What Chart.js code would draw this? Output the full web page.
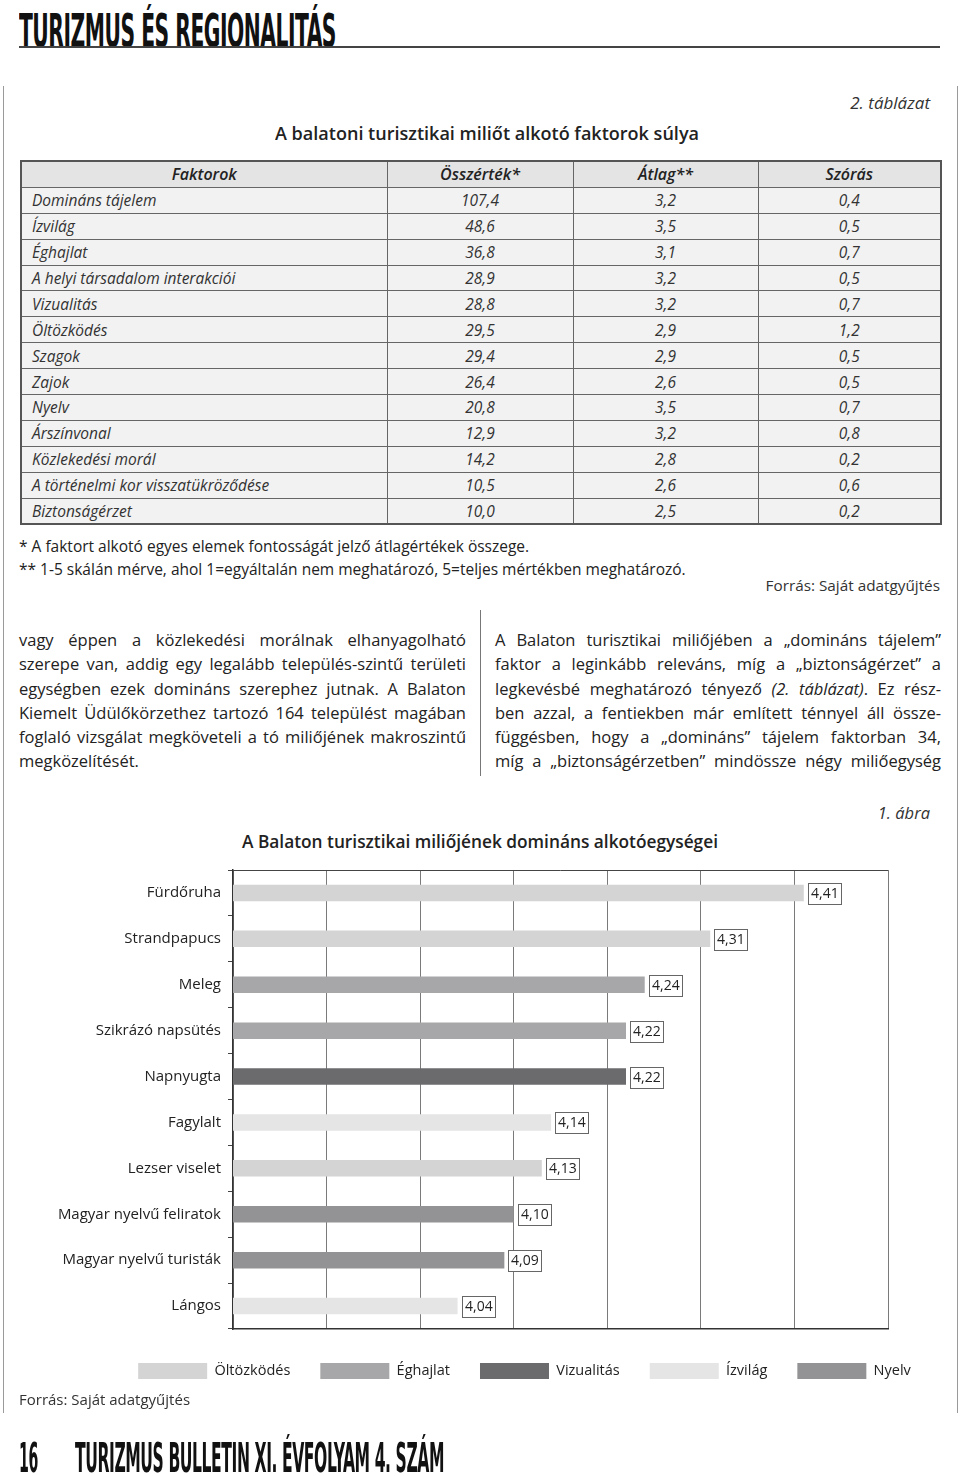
<!DOCTYPE html>
<html lang="hu">
<head>
<meta charset="utf-8">
<title>A Balaton turisztikai miliőjének domináns alkotóegységei</title>
<script src="https://cdn.jsdelivr.net/npm/chart.js@4.4.1/dist/chart.umd.min.js"></script>
<style>
  html, body { margin: 0; padding: 0; background: #fff; }
  body { width: 960px; height: 1476px; position: relative; overflow: hidden;
         font-family: "Open Sans", "DejaVu Sans", sans-serif; color: #222; }
  .abs { position: absolute; white-space: nowrap; }
  .fit { transform-origin: left top; display: inline-block; }
  .head { font-family: "Liberation Sans Narrow", "DejaVu Sans Condensed", "Roboto", sans-serif;
          font-weight: bold; color: #111; letter-spacing: -1px; }
  .vline { position: absolute; width: 1px; background: #9a9a9a; }
  table { position: absolute; left: 20px; top: 160px; width: 920px; table-layout: fixed;
          border-collapse: collapse; font-style: italic; font-size: 15.5px; color: #333;
          border: 2px solid #555; }
  td, th { height: 24.9px; padding: 0; border: 1px solid #666; background: #f2f2f2;
           overflow: hidden; white-space: nowrap; }
  th { font-weight: 600; font-size: 16px; background: #e4e4e4; color: #222; }
  td { text-align: center; }
  td.f { text-align: left; padding-left: 10px; }
  .col { position: absolute; top: 628px; width: 447px; font-size: 16.5px; line-height: 24.3px; color: #222; }
  .col div { text-align: justify; text-align-last: justify; white-space: nowrap; }
  .col div.last { text-align-last: left; }
</style>
</head>
<body>

<div class="abs head" style="left:19px; top:3px; font-size:47px;"><span class="fit" data-w="317">TURIZMUS ÉS REGIONALITÁS</span></div>
<div class="abs" style="left:19px; top:46px; width:921px; height:2px; background:#444;"></div>

<div class="vline" style="left:3px; top:86px; height:1327px;"></div>
<div class="vline" style="left:957px; top:86px; height:1327px;"></div>

<div class="abs" style="right:30px; top:91px; font-size:17px; font-style:italic; color:#333;">2. táblázat</div>
<div class="abs" style="left:275px; top:121px; font-size:18px; font-weight:600;"><span class="fit" data-w="424">A balatoni turisztikai miliőt alkotó faktorok súlya</span></div>

<table id="tbl">
  <colgroup><col style="width:366px"><col style="width:186px"><col style="width:185px"><col style="width:183px"></colgroup>
</table>

<div class="abs" style="left:19px; top:535px; font-size:15.5px;">* A faktort alkotó egyes elemek fontosságát jelző átlagértékek összege.</div>
<div class="abs" style="left:19px; top:558px; font-size:15.5px;">** 1-5 skálán mérve, ahol 1=egyáltalán nem meghatározó, 5=teljes mértékben meghatározó.</div>
<div class="abs" style="right:20px; top:575px; font-size:15.3px; color:#333;">Forrás: Saját adatgyűjtés</div>

<div class="col" style="left:19px;">
  <div>vagy éppen a közlekedési morálnak elhanyagolható</div>
  <div>szerepe van, addig egy legalább település-szintű területi</div>
  <div>egységben ezek domináns szerephez jutnak. A Balaton</div>
  <div>Kiemelt Üdülőkörzethez tartozó 164 települést magában</div>
  <div>foglaló vizsgálat megköveteli a tó miliőjének makroszintű</div>
  <div class="last">megközelítését.</div>
</div>
<div class="vline" style="left:480px; top:610px; height:166px; background:#777;"></div>
<div class="col" style="left:495px; width:446px;">
  <div>A Balaton turisztikai miliőjében a „domináns tájelem”</div>
  <div>faktor a leginkább releváns, míg a „biztonságérzet” a</div>
  <div>legkevésbé meghatározó tényező <i>(2. táblázat)</i>. Ez rész-</div>
  <div>ben azzal, a fentiekben már említett ténnyel áll össze-</div>
  <div>függésben, hogy a „domináns” tájelem faktorban 34,</div>
  <div>míg a „biztonságérzetben” mindössze négy miliőegység</div>
</div>

<div class="abs" style="right:30px; top:801px; font-size:16.5px; font-style:italic; color:#333;">1. ábra</div>
<div class="abs" style="left:0; width:960px; text-align:center; top:830px; font-size:17.3px; font-weight:600;">A Balaton turisztikai miliőjének domináns alkotóegységei</div>

<div style="position:absolute; left:19px; top:854px; width:921px; height:540px;">
  <canvas id="chart"></canvas>
</div>

<div class="abs" style="left:19px; top:1389px; font-size:15px; color:#333;">Forrás: Saját adatgyűjtés</div>

<div class="abs head" style="left:19px; top:1434px; font-size:41px;"><span class="fit" data-w="19">16</span></div>
<div class="abs head" style="left:75px; top:1434px; font-size:41px;"><span class="fit" data-w="369">TURIZMUS BULLETIN XI. ÉVFOLYAM 4. SZÁM</span></div>

<script>
// table data (2. táblázat)
const tableHeader = ['Faktorok', 'Összérték*', 'Átlag**', 'Szórás'];
const factors = ['Domináns tájelem', 'Ízvilág', 'Éghajlat', 'A helyi társadalom interakciói', 'Vizualitás',
  'Öltözködés', 'Szagok', 'Zajok', 'Nyelv', 'Árszínvonal', 'Közlekedési morál',
  'A történelmi kor visszatükröződése', 'Biztonságérzet'];
const totals = ['107,4', '48,6', '36,8', '28,9', '28,8', '29,5', '29,4', '26,4', '20,8', '12,9', '14,2', '10,5', '10,0'];
const means = ['3,2', '3,5', '3,1', '3,2', '3,2', '2,9', '2,9', '2,6', '3,5', '3,2', '2,8', '2,6', '2,5'];
const deviations = ['0,4', '0,5', '0,7', '0,5', '0,7', '1,2', '0,5', '0,5', '0,7', '0,8', '0,2', '0,6', '0,2'];

// chart data (1. ábra)
const items = ['Fürdőruha', 'Strandpapucs', 'Meleg', 'Szikrázó napsütés', 'Napnyugta', 'Fagylalt',
  'Lezser viselet', 'Magyar nyelvű feliratok', 'Magyar nyelvű turisták', 'Lángos'];
const itemValues = [4.41, 4.31, 4.24, 4.22, 4.22, 4.14, 4.13, 4.10, 4.09, 4.04];
const itemFactor = ['Öltözködés', 'Öltözködés', 'Éghajlat', 'Éghajlat', 'Vizualitás', 'Ízvilág',
  'Öltözködés', 'Nyelv', 'Nyelv', 'Ízvilág'];
const seriesNames = ['Öltözködés', 'Éghajlat', 'Vizualitás', 'Ízvilág', 'Nyelv'];
const seriesColors = ['#d4d4d5', '#a7a7a9', '#6b6b6e', '#e5e5e6', '#939395'];
const xTicks = [3.8, 3.9, 4.0, 4.1, 4.2, 4.3, 4.4, 4.5];

// build table
const tbl = document.getElementById('tbl');
let html = '<tr>' + tableHeader.map(h => `<th>${h}</th>`).join('') + '</tr>';
factors.forEach((f, i) => {
  html += `<tr><td class="f">${f}</td><td>${totals[i]}</td><td>${means[i]}</td><td>${deviations[i]}</td></tr>`;
});
tbl.insertAdjacentHTML('beforeend', html);

const comma = v => v.toFixed(2).replace('.', ',');

// value in a small framed box right of each bar
const valueBoxes = {
  id: 'valueBoxes',
  afterDatasetsDraw(chart) {
    const ctx = chart.ctx;
    ctx.save();
    ctx.font = '14px "Open Sans"';
    ctx.textBaseline = 'middle';
    chart.data.datasets.forEach((ds, di) => {
      chart.getDatasetMeta(di).data.forEach((bar, i) => {
        if (ds.data[i] == null) return;
        const txt = comma(ds.data[i]);
        const w = Math.round(ctx.measureText(txt).width) + 5;
        const x = Math.round(bar.x) + 4, y = Math.round(bar.y) - 10;
        ctx.fillStyle = '#fff';
        ctx.fillRect(x, y, w, 21);
        ctx.strokeStyle = '#666';
        ctx.lineWidth = 1;
        ctx.strokeRect(x + 0.5, y + 0.5, w, 21);
        ctx.fillStyle = '#222';
        ctx.fillText(txt, x + 3, y + 11.5);
      });
    });
    ctx.restore();
  }
};

// the legend in the original sits right of the canvas centre
const shiftLegend = {
  id: 'shiftLegend',
  afterLayout(chart) {
    chart.legend.left += 71;
    chart.legend.right += 71;
  }
};

new Chart(document.getElementById('chart'), {
  type: 'bar',
  data: {
    labels: items,
    datasets: seriesNames.map((name, s) => ({
      label: name,
      data: itemValues.map((v, i) => itemFactor[i] === name ? v : null),
      backgroundColor: seriesColors[s],
      borderWidth: 0,
      barPercentage: 0.36,
      categoryPercentage: 1
    }))
  },
  options: {
    indexAxis: 'y',
    responsive: true,
    maintainAspectRatio: false,
    animation: false,
    skipNull: true,
    layout: { padding: { left: 0, right: 52, top: 2, bottom: 5 } },
    scales: {
      x: {
        min: 3.8,
        max: 4.5,
        afterBuildTicks: scale => { scale.ticks = xTicks.map(v => ({ value: v })); },
        ticks: {
          callback: v => comma(v),
          font: { family: 'Open Sans', size: 14 },
          color: '#222',
          padding: 8
        },
        grid: { color: '#7a7a7a', lineWidth: 1, drawTicks: false },
        border: { color: '#333', width: 1.5 },
        afterFit: scale => { scale.height = 4; }
      },
      y: {
        ticks: {
          font: { family: 'Open Sans', size: 15 },
          color: '#222',
          padding: 7
        },
        grid: {
          offset: true,
          tickLength: 5,
          color: c => c.index === 0 ? '#444' : 'rgba(0,0,0,0)',
          tickColor: '#444'
        },
        border: { color: '#333', width: 1.5 },
        afterFit: scale => { scale.width = 214; }
      }
    },
    plugins: {
      legend: {
        position: 'bottom',
        labels: {
          boxWidth: 69,
          boxHeight: 16,
          padding: 30,
          color: '#222',
          font: { family: 'Open Sans', size: 14.5 }
        }
      },
      tooltip: { enabled: false }
    }
  },
  plugins: [valueBoxes, shiftLegend]
});

// squeeze the condensed headings to the widths of the printed page
document.querySelectorAll('.fit').forEach(el => {
  const w = el.getBoundingClientRect().width;
  el.style.transform = `scaleX(${el.dataset.w / w})`;
});
</script>
</body>
</html>
